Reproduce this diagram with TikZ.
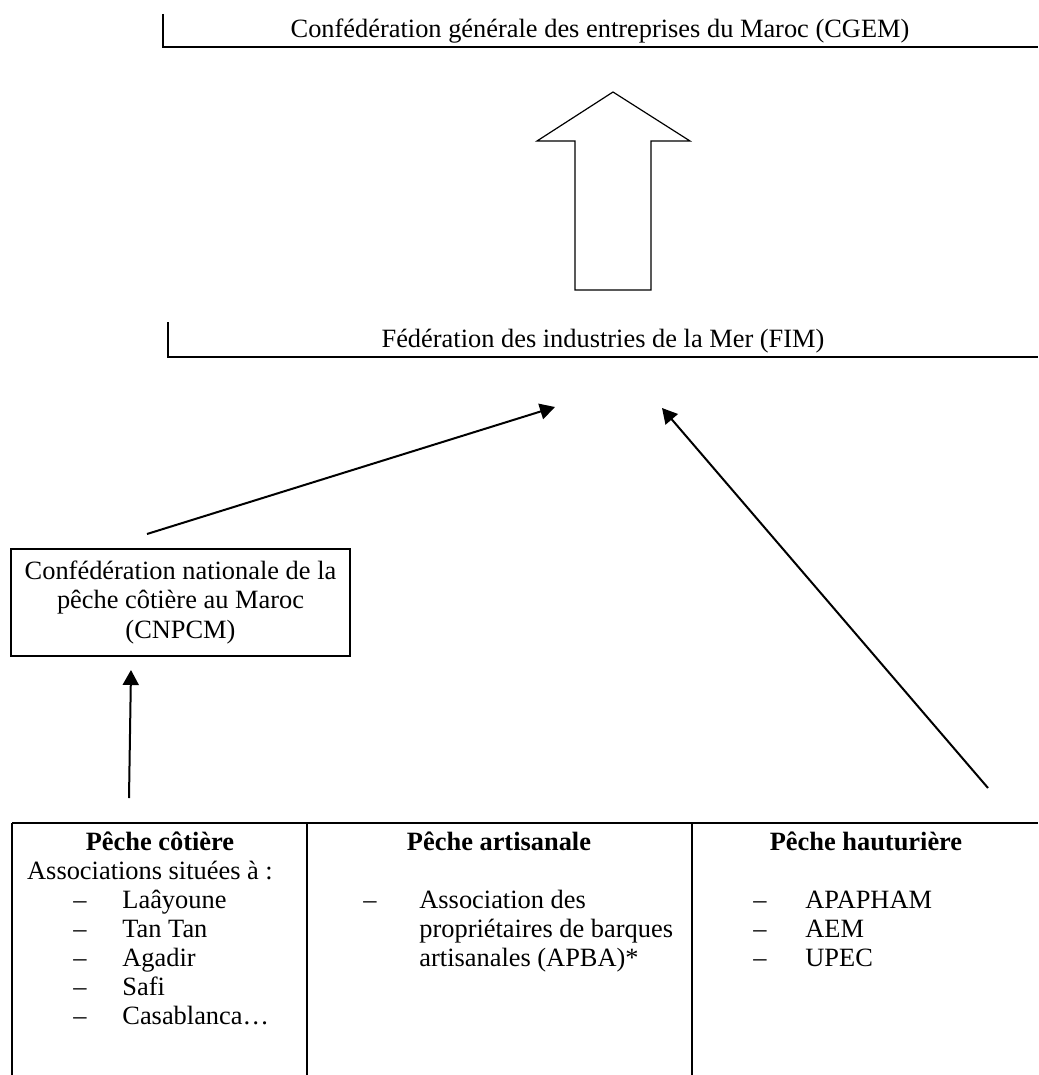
\documentclass[tikz,border=0pt]{standalone}
\usepackage{fontspec}
\setmainfont{Liberation Serif}
\usetikzlibrary{arrows.meta}

\begin{document}
\begin{tikzpicture}[x=0.5pt, y=-0.5pt,
    % Text styles
    txt/.style={font=\fontsize{13.2}{14.6}\selectfont, inner sep=0pt, anchor=base},
    headtxt/.style={txt, font=\fontsize{13.2}{14.6}\selectfont\bfseries},
    orgbox/.style={draw, line width=0.7pt, align=center, inner sep=0pt,
      font=\fontsize{13.2}{14.6}\selectfont, minimum width=169.5pt, minimum height=53.5pt},
    % Line styles
    bar/.style={line width=0.6pt},
    tableline/.style={line width=1pt},
    linkarrow/.style={-{Triangle[length=7.5pt,width=8pt]}, line width=1pt},
    bigarrow/.style={line width=0.6pt, line join=miter}
  ]
  \path[use as bounding box] (0,0) rectangle (1038,1075);

  % ==========================================
  % 1. Top: CGEM and FIM
  % ==========================================
  \node[txt] (cgem) at (600,38) {Confédération générale des entreprises du Maroc (CGEM)};
  \draw[bar] (163,14) -- (163,47) -- (1038,47);

  \draw[bigarrow] (613,92) -- (690,141) -- (651,141) -- (651,290)
    -- (575,290) -- (575,141) -- (537,141) -- cycle;

  \node[txt] (fim) at (603,347) {Fédération des industries de la Mer (FIM)};
  \draw[bar] (168,322) -- (168,357) -- (1038,357);

  % ==========================================
  % 2. Middle: CNPCM
  % ==========================================
  \node[orgbox] (cnpcm) at (180.5,602.5) {Confédération nationale de la\\pêche côtière au Maroc\\(CNPCM)};

  % ==========================================
  % 3. Bottom: table of associations
  % ==========================================
  \draw[tableline] (12,823) -- (1038,823);
  \foreach \x in {12,307,692}
    \draw[tableline] (\x,823) -- (\x,1075);

  \node[headtxt] (head1) at (160,850) {Pêche côtière};
  \node[headtxt] (head2) at (499,850) {Pêche artisanale};
  \node[headtxt] (head3) at (866,850) {Pêche hauturière};

  \node[txt] (intro1) at (150,879) {Associations situées à :};
  \foreach \place [count=\i] in {Laâyoune, Tan Tan, Agadir, Safi, Casablanca…} {
    \node[txt] (dash1-\i) at (80,879+29*\i) {–};
    \node[txt, anchor=base west] (item1-\i) at (122,879+29*\i) {\place};
  }

  \node[txt] (dash2-1) at (370,908) {–};
  \foreach \line [count=\i] in {Association des, propriétaires de barques, artisanales (APBA)*}
    \node[txt, anchor=base west] (item2-\i) at (419,879+29*\i) {\line};

  \foreach \org [count=\i] in {APAPHAM, AEM, UPEC} {
    \node[txt] (dash3-\i) at (760,879+29*\i) {–};
    \node[txt, anchor=base west] (item3-\i) at (805,879+29*\i) {\org};
  }

  % ==========================================
  % 4. Arrows
  % ==========================================
  \coordinate (fim_left) at (555,407);
  \coordinate (fim_right) at (662,408);
  \coordinate (cnpcm_out) at (147,534);
  \coordinate (cnpcm_in) at (131,670);
  \coordinate (coastal_out) at (129,798);
  \coordinate (deepsea_out) at (988,788);

  \draw[linkarrow] (cnpcm_out) -- (fim_left);
  \draw[linkarrow] (deepsea_out) -- (fim_right);
  \draw[linkarrow] (coastal_out) -- (cnpcm_in);
\end{tikzpicture}
\end{document}
